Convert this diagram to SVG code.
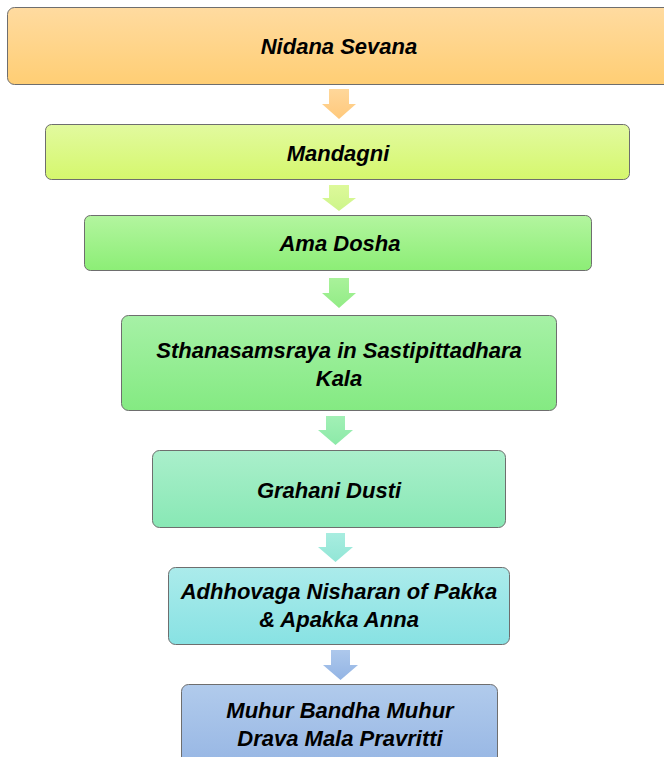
<svg xmlns="http://www.w3.org/2000/svg" width="664" height="757" viewBox="0 0 664 757">
<defs>
<linearGradient id="g1" x1="0" y1="0" x2="0" y2="1"><stop offset="0" stop-color="#FFDBA0"/><stop offset="1" stop-color="#FFCE74"/></linearGradient>
<linearGradient id="g2" x1="0" y1="0" x2="0" y2="1"><stop offset="0" stop-color="#E2FA9F"/><stop offset="1" stop-color="#D5F76D"/></linearGradient>
<linearGradient id="g3" x1="0" y1="0" x2="0" y2="1"><stop offset="0" stop-color="#B3F59F"/><stop offset="1" stop-color="#8CEE76"/></linearGradient>
<linearGradient id="g4" x1="0" y1="0" x2="0" y2="1"><stop offset="0" stop-color="#A6F1A6"/><stop offset="1" stop-color="#84EA82"/></linearGradient>
<linearGradient id="g5" x1="0" y1="0" x2="0" y2="1"><stop offset="0" stop-color="#AAEFCB"/><stop offset="1" stop-color="#88E8B5"/></linearGradient>
<linearGradient id="g6" x1="0" y1="0" x2="0" y2="1"><stop offset="0" stop-color="#ABEBEB"/><stop offset="1" stop-color="#88E2E3"/></linearGradient>
<linearGradient id="g7" x1="0" y1="0" x2="0" y2="1"><stop offset="0" stop-color="#B1CBEC"/><stop offset="1" stop-color="#94B4E3"/></linearGradient>
<linearGradient id="a1" x1="0" y1="0" x2="0" y2="1"><stop offset="0" stop-color="#FFD79A"/><stop offset="1" stop-color="#FFC97C"/></linearGradient>
<linearGradient id="a2" x1="0" y1="0" x2="0" y2="1"><stop offset="0" stop-color="#DDF99A"/><stop offset="1" stop-color="#CDF58A"/></linearGradient>
<linearGradient id="a3" x1="0" y1="0" x2="0" y2="1"><stop offset="0" stop-color="#A9F29A"/><stop offset="1" stop-color="#92EC86"/></linearGradient>
<linearGradient id="a4" x1="0" y1="0" x2="0" y2="1"><stop offset="0" stop-color="#A2F0B6"/><stop offset="1" stop-color="#8CEAA8"/></linearGradient>
<linearGradient id="a5" x1="0" y1="0" x2="0" y2="1"><stop offset="0" stop-color="#A8EDE0"/><stop offset="1" stop-color="#92E6D6"/></linearGradient>
<linearGradient id="a6" x1="0" y1="0" x2="0" y2="1"><stop offset="0" stop-color="#ADC8EC"/><stop offset="1" stop-color="#93B4E4"/></linearGradient>
</defs>
<style>
.box{stroke:#6E6E6E;stroke-width:1}
.t{font-family:"Liberation Sans",Arial,sans-serif;font-weight:bold;font-style:italic;font-size:22px;fill:#000;text-anchor:middle}
</style>
<rect width="664" height="757" fill="#FFFFFF"/>
<g id="connectors">
<path d="M329,89 H349 V104 H356 L339,119 L322,104 H329 Z" fill="url(#a1)"/>
<path d="M329,185 H349 V198 H356 L339,211 L322,198 H329 Z" fill="url(#a2)"/>
<path d="M329,278 H349 V293 H356 L339,308 L322,293 H329 Z" fill="url(#a3)"/>
<path d="M326,416 H345 V430 H353 L335.5,445 L318,430 H326 Z" fill="url(#a4)"/>
<path d="M326,533 H345 V547 H353 L335.5,562 L318,547 H326 Z" fill="url(#a5)"/>
<path d="M331,650 H350 V665 H358 L340.5,680 L323,665 H331 Z" fill="url(#a6)"/>
</g>
<g id="n1"><rect class="box" x="7.5" y="7.5" width="670" height="77" rx="7" fill="url(#g1)"/><text class="t" x="339" y="54">Nidana Sevana</text></g>
<g id="n2"><rect class="box" x="45.5" y="124.5" width="584" height="55" rx="6" fill="url(#g2)"/><text class="t" x="338" y="161">Mandagni</text></g>
<g id="n3"><rect class="box" x="84.5" y="215.5" width="507" height="55" rx="6" fill="url(#g3)"/><text class="t" x="340" y="251">Ama Dosha</text></g>
<g id="n4"><rect class="box" x="121.5" y="315.5" width="435" height="95" rx="7" fill="url(#g4)"/><text class="t" x="339" y="358">Sthanasamsraya in Sastipittadhara</text><text class="t" x="339" y="386">Kala</text></g>
<g id="n5"><rect class="box" x="152.5" y="450.5" width="353" height="77" rx="7" fill="url(#g5)"/><text class="t" x="329" y="498">Grahani Dusti</text></g>
<g id="n6"><rect class="box" x="168.5" y="567.5" width="341" height="77" rx="7" fill="url(#g6)"/><text class="t" x="339" y="599">Adhhovaga Nisharan of Pakka</text><text class="t" x="339" y="627">&amp; Apakka Anna</text></g>
<g id="n7"><rect class="box" x="181.5" y="684.5" width="316" height="90" rx="7" fill="url(#g7)"/><text class="t" x="340" y="718">Muhur Bandha Muhur</text><text class="t" x="340" y="746">Drava Mala Pravritti</text></g>
</svg>
